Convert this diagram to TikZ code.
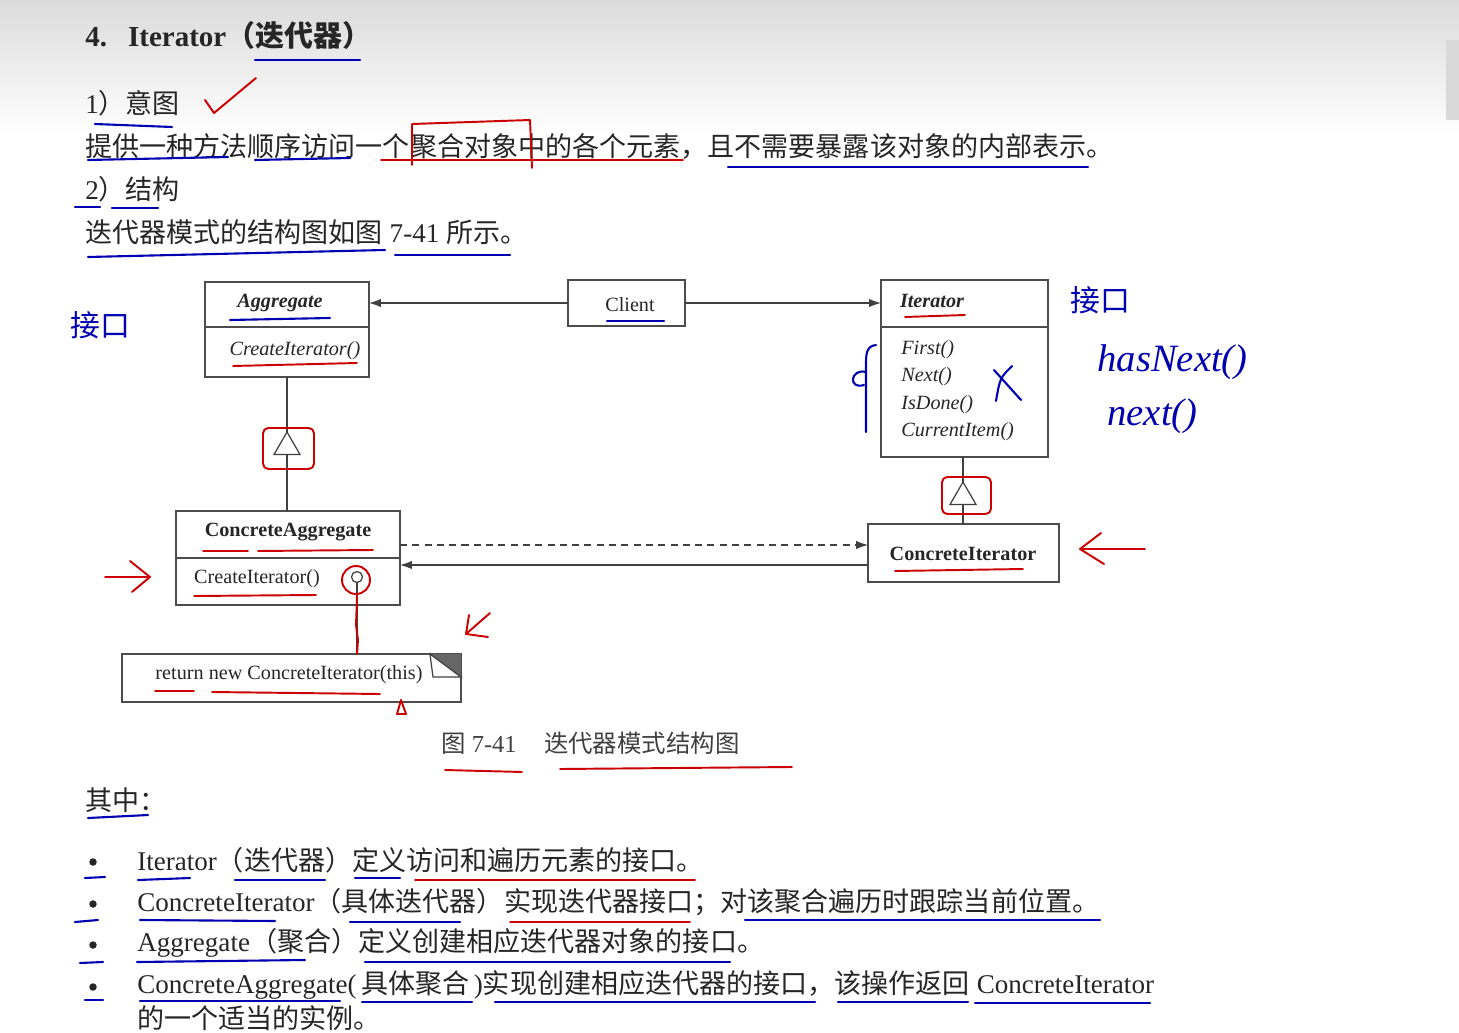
\documentclass[tikz,border=0pt]{standalone}
\usepackage{fontspec}
\setmainfont{Liberation Serif}
\newfontfamily\cjk{Noto Sans CJK SC}
\usetikzlibrary{positioning,arrows.meta,shapes.geometric}

\newcommand{\zh}[1]{{\cjk #1}}

\begin{document}
\begin{tikzpicture}[x=0.02cm, y=-0.02cm,
        body/.style={anchor=west, inner sep=0pt, text=black!85, font=\fontsize{15.4}{18}\selectfont},
        captext/.style={anchor=west, inner sep=0pt, text=black!75, font=\fontsize{13.9}{16}\selectfont},
        cls/.style={draw=black!70, line width=0.8pt, inner sep=0pt, outer sep=0pt},
        lbl/.style={inner sep=0pt, text=black!85, font=\fontsize{11.5}{13}\selectfont},
        link/.style={draw=black!75, line width=0.7pt},
        assoc/.style={link, -{Latex[length=2.4mm,width=1.7mm]}},
        gentri/.style={link, fill=white, regular polygon, regular polygon sides=3, minimum size=0.6cm, inner sep=0pt, outer sep=0pt},
        blueink/.style={draw=blue!70!black, line width=1.2pt, line cap=round, line join=round},
        redink/.style={draw=red!80!black, line width=1.1pt, line cap=round, line join=round},
        hand/.style={inner sep=0pt, text=blue!70!black}
    ]
    \useasboundingbox (0,0) rectangle (1459,1033);
    \fill[white] (0,0) rectangle (1459,1033);
    \shade[top color=black!14, bottom color=white] (0,0) rectangle (1459,135);
    \fill[black!15] (1446,40) rectangle (1459,120);

    % page text
    \node[body, font=\fontsize{16.5}{19}\selectfont\bfseries] (title) at (85,35) {4.\hspace{0.42cm}Iterator\zh{\bfseries（迭代器）}};
    \node[body] (intent) at (85,103) {1\zh{）意图}};
    \node[body] (intenttxt) at (85,146) {\zh{提供一种方法顺序访问一个聚合对象中的各个元素，且不需要暴露该对象的内部表示。}};
    \node[body] (struct) at (85,189) {2\zh{）结构}};
    \node[body] (structtxt) at (85,232) {\zh{迭代器模式的结构图如图} 7-41 \zh{所示。}};

    % class boxes
    \node[cls, minimum width=3.28cm, minimum height=1.9cm] (aggregate) at (287,329.5) {};
    \node[cls, minimum width=2.34cm, minimum height=0.92cm] (client) at (626.5,303) {};
    \node[cls, minimum width=3.34cm, minimum height=3.54cm] (iterator) at (964.5,368.5) {};
    \node[cls, minimum width=4.48cm, minimum height=1.88cm] (concagg) at (288,558) {};
    \node[cls, minimum width=3.82cm, minimum height=1.16cm] (concit) at (963.5,553) {};
    \node[minimum width=6.78cm, minimum height=0.96cm, inner sep=0pt, outer sep=0pt] (note) at (291.5,678) {};

    \draw[cls] (aggregate.west |- 0,327) -- (aggregate.east |- 0,327);
    \draw[cls] (iterator.west |- 0,327) -- (iterator.east |- 0,327);
    \draw[cls] (concagg.west |- 0,558) -- (concagg.east |- 0,558);

    % note with folded corner
    \draw[cls] (note.north west) rectangle (note.south east);
    \fill[black!60] ([xshift=-0.62cm]note.north east) -- (note.north east) -- ([yshift=-0.46cm]note.north east) -- cycle;
    \draw[link, fill=white] ([xshift=-0.62cm]note.north east) -- ([xshift=-0.56cm,yshift=-0.46cm]note.north east) -- ([yshift=-0.46cm]note.north east) -- cycle;

    % labels
    \node[lbl, font=\fontsize{11.5}{13}\selectfont\bfseries\itshape] (aggname) at (280,303) {Aggregate};
    \node[lbl, font=\fontsize{11.5}{13}\selectfont\itshape] (aggop) at (295,351) {CreateIterator()};
    \node[lbl] (clientname) at (630,305) {Client};
    \node[lbl, font=\fontsize{11.5}{13}\selectfont\bfseries\itshape] (itname) at (932,301) {Iterator};
    \foreach \op [count=\i] in {First(),Next(),IsDone(),CurrentItem()}
        \node[lbl, anchor=west, font=\fontsize{11.5}{13}\selectfont\itshape] (itop\i) at (901,322+27.5*\i) {\op};
    \node[lbl, font=\fontsize{11.5}{13}\selectfont\bfseries] (caname) at (288,532) {ConcreteAggregate};
    \node[lbl] (caop) at (257,579) {CreateIterator()};
    \node[lbl, font=\fontsize{11.5}{13}\selectfont\bfseries] (ciname) at (963,554) {ConcreteIterator};
    \node[lbl] (notetxt) at (289,675) {return new ConcreteIterator(this)};

    % connectors
    \draw[assoc] (client.west) -- (client.west -| aggregate.east);
    \draw[assoc] (client.east) -- (client.east -| iterator.west);
    \node[gentri] (aggtri) at (287,447) {};
    \draw[link] (aggregate.south) -- (aggtri.north);
    \draw[link] (aggtri.south) -- (aggtri.south |- concagg.north);
    \node[gentri] (ittri) at (963,497) {};
    \draw[link] (iterator.south -| ittri.north) -- (ittri.north);
    \draw[link] (ittri.south) -- (ittri.south |- concit.north);
    \draw[assoc, dash pattern=on 4pt off 3pt] (concagg.east |- 0,545) -- (concit.west |- 0,545);
    \draw[assoc] (concit.west |- 0,565) -- (concagg.east |- 0,565);
    \node[link, circle, minimum size=0.22cm, inner sep=0pt, outer sep=0pt] (lolli) at (357,577) {};
    \draw[link] (lolli.south) -- (lolli.south |- note.north);

    \node[captext] (caption) at (441,743) {\zh{图} 7-41\hspace{0.55cm}\zh{迭代器模式结构图}};

    % list
    \node[body] (where) at (85,800) {\zh{其中：}};
    \foreach \y [count=\i] in {860,902,943,985}
        \node[circle, fill=black!85, minimum size=0.15cm, inner sep=0pt] (dot\i) at (93,\y+2) {};
    \node[body] (item1) at (137,860) {Iterator\zh{（迭代器）定义访问和遍历元素的接口。}};
    \node[body] (item2) at (137,902) {ConcreteIterator\zh{（具体迭代器）实现迭代器接口；对该聚合遍历时跟踪当前位置。}};
    \node[body] (item3) at (137,943) {Aggregate\zh{（聚合）定义创建相应迭代器对象的接口。}};
    \node[body] (item4) at (137,985) {ConcreteAggregate(\,\zh{具体聚合}\,)\zh{实现创建相应迭代器的接口，该操作返回} ConcreteIterator};
    \node[body] (item5) at (137,1018) {\zh{的一个适当的实例。}};

    % handwritten marks
    \foreach \xa/\ya/\xb/\yb in {255/60/360/60, 95/124/172/127, 88/160/228/157, 255/160/350/158,
        728/167/1088/167, 75/207/100/207, 112/208/158/208, 88/257/385/250, 395/255/510/255,
        230/320/330/318, 607/321/664/321, 88/818/148/815,
        85/878/105/877, 75/922/98/920, 80/963/103/962, 85/1000/103/1000,
        138/880/190/878, 235/880/325/880, 355/878/400/878, 140/920/275/921, 350/922/460/922,
        745/920/1100/920, 137/962/305/960, 365/962/730/962, 140/1001/340/1001, 362/1002/472/1002,
        495/1002/815/1002, 838/1002/968/1002, 975/1003/1150/1003}
        \draw[blueink] (\xa,\ya) -- (\xb,\yb);
    \foreach \xa/\ya/\xb/\yb in {381/160/683/160, 233/366/357/363, 905/317/965/315,
        203/551/248/551, 258/551/373/550, 194/596/316/595, 895/571/1023/569,
        155/691/194/691, 212/692/380/694, 445/770/522/772, 560/769/792/767,
        415/880/695/880, 510/922/690/922}
        \draw[redink] (\xa,\ya) -- (\xb,\yb);
    \draw[redink] (205,100) -- (214,113) -- (256,78);
    \draw[redink] (412,165) -- (412,124) -- (530,120) -- (532,168);
    \draw[redink, rounded corners=3pt] (263,428) rectangle (314,469);
    \draw[redink, rounded corners=3pt] (942,477) rectangle (991,514);
    \draw[redink] (356,580) circle[radius=0.28cm];
    \draw[redink] (357,596) -- (356,625) -- (358,640) -- (357,654);
    \draw[redink] (397,714) -- (401,700) -- (406,714) -- cycle;
    \draw[redink] (105,577) -- (150,577) (130,561) -- (150,577) -- (132,592);
    \draw[redink] (1145,549) -- (1080,549) (1101,533) -- (1080,549) -- (1104,564);
    \draw[redink] (490,613) -- (466,634) (469,615) -- (466,634) -- (488,637);

    \draw[blueink] (876,345) .. controls (866,346) and (866,355) .. (866,365) -- (866,432);
    \draw[blueink] (866,372) .. controls (850,368) and (848,390) .. (864,385);
    \draw[blueink] (994,370) -- (1021,400) (1012,366) .. controls (1000,378) .. (996,401);

    \node[hand, font=\cjk\fontsize{17}{20}\selectfont] (leftnote) at (100,325) {接口};
    \node[hand, font=\cjk\fontsize{17}{20}\selectfont] (rightnote) at (1100,300) {接口};
    \node[hand, anchor=west, font=\fontsize{22}{24}\selectfont\itshape] (hasnext) at (1097,362) {hasNext()};
    \node[hand, anchor=west, font=\fontsize{22}{24}\selectfont\itshape] (nextnote) at (1107,416) {next()};
\end{tikzpicture}
\end{document}
